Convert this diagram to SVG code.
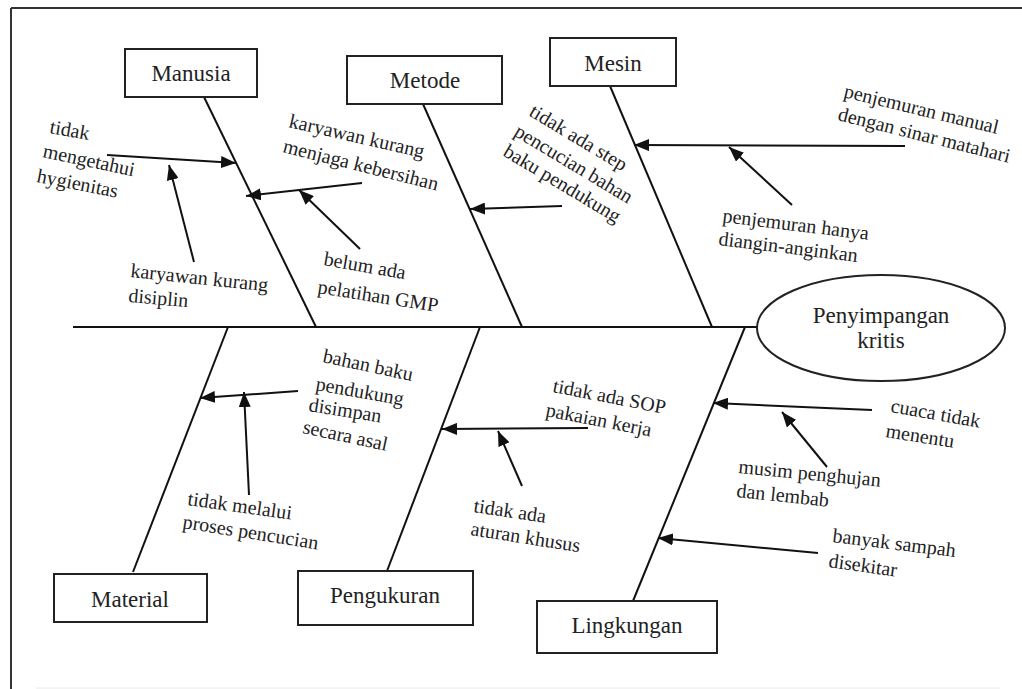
<svg xmlns="http://www.w3.org/2000/svg" width="1022" height="689" viewBox="0 0 1022 689">
<style>
.ln{stroke:#111;stroke-width:2;fill:none}
.ar{stroke:#111;stroke-width:2;fill:none;marker-end:url(#ah)}
.box{fill:#fff;stroke:#222;stroke-width:2}
.bt{font-family:"Liberation Serif","Times New Roman",serif;font-size:23px;fill:#222;text-anchor:middle}
.lb{font-family:"Liberation Serif","Times New Roman",serif;font-size:20px;fill:#222}
</style>
<defs>
<marker id="ah" markerUnits="userSpaceOnUse" markerWidth="16" markerHeight="12" refX="15" refY="6" orient="auto">
<path d="M0,0 L15,6 L0,12 z" fill="#111"/>
</marker>
</defs>
<rect width="1022" height="689" fill="#fff"/>
<g id="frame">
<line x1="11" y1="8" x2="1022" y2="8" stroke="#333" stroke-width="2"/>
<line x1="11" y1="8" x2="11" y2="689" stroke="#333" stroke-width="2"/>
<line x1="36" y1="688" x2="1000" y2="688" stroke="#e8e8e8" stroke-width="1"/>
</g>
<g id="connectors">
<line class="ln" x1="73" y1="327" x2="758" y2="327"/>
<line class="ln" x1="204" y1="97" x2="316" y2="327"/>
<line class="ln" x1="423" y1="104" x2="522" y2="327"/>
<line class="ln" x1="610" y1="86" x2="712" y2="327"/>
<line class="ln" x1="228" y1="327" x2="133" y2="572"/>
<line class="ln" x1="480" y1="327" x2="387" y2="571"/>
<line class="ln" x1="745" y1="327" x2="633" y2="601"/>
<line class="ar" x1="107" y1="155" x2="236" y2="163"/>
<line class="ar" x1="194" y1="262" x2="169" y2="165"/>
<line class="ar" x1="362" y1="183" x2="246" y2="196"/>
<line class="ar" x1="360" y1="249" x2="299" y2="190"/>
<line class="ar" x1="562" y1="206" x2="470" y2="209"/>
<line class="ar" x1="905" y1="146" x2="634" y2="145"/>
<line class="ar" x1="792" y1="205" x2="729" y2="147"/>
<line class="ar" x1="298" y1="391" x2="200" y2="398"/>
<line class="ar" x1="249" y1="495" x2="244" y2="392"/>
<line class="ar" x1="588" y1="428" x2="442" y2="429"/>
<line class="ar" x1="522" y1="486" x2="498" y2="431"/>
<line class="ar" x1="872" y1="410" x2="713" y2="403"/>
<line class="ar" x1="827" y1="467" x2="782" y2="412"/>
<line class="ar" x1="818" y1="553" x2="658" y2="538"/>
</g>
<g id="manusia">
<rect class="box" x="125" y="49" width="132" height="48"/>
<text class="bt" x="191" y="81">Manusia</text>
</g>
<g id="metode">
<rect class="box" x="347" y="56" width="155" height="48"/>
<text class="bt" x="425" y="88">Metode</text>
</g>
<g id="mesin">
<rect class="box" x="550" y="38" width="126" height="48"/>
<text class="bt" x="613" y="71">Mesin</text>
</g>
<g id="material">
<rect class="box" x="54" y="574" width="153" height="48"/>
<text class="bt" x="130" y="607">Material</text>
</g>
<g id="pengukuran">
<rect class="box" x="298" y="571" width="175" height="54"/>
<text class="bt" x="385" y="603">Pengukuran</text>
</g>
<g id="lingkungan">
<rect class="box" x="537" y="601" width="180" height="52"/>
<text class="bt" x="627" y="633">Lingkungan</text>
</g>
<g id="penyimpangan">
<ellipse cx="881" cy="328" rx="124" ry="53" fill="#fff" stroke="#222" stroke-width="2"/>
<text class="bt" x="881" y="323">Penyimpangan</text>
<text class="bt" x="881" y="348">kritis</text>
</g>
<g id="labels">
<text class="lb" x="49" y="133" transform="rotate(10 49 133)">tidak</text>
<text class="lb" x="42" y="157" transform="rotate(12 42 157)">mengetahui</text>
<text class="lb" x="36" y="182" transform="rotate(11 36 182)">hygienitas</text>
<text class="lb" x="288" y="127" transform="rotate(13 288 127)">karyawan kurang</text>
<text class="lb" x="282" y="152" transform="rotate(14 282 152)">menjaga kebersihan</text>
<text class="lb" x="130" y="277" transform="rotate(6 130 277)">karyawan kurang</text>
<text class="lb" x="128" y="302" transform="rotate(5 128 302)">disiplin</text>
<text class="lb" x="323" y="265" transform="rotate(10 323 265)">belum ada</text>
<text class="lb" x="317" y="293" transform="rotate(9 317 293)">pelatihan GMP</text>
<text class="lb" x="528" y="115" transform="rotate(31 528 115)">tidak ada step</text>
<text class="lb" x="513" y="135" transform="rotate(31 513 135)">pencucian bahan</text>
<text class="lb" x="502" y="155" transform="rotate(31 502 155)">baku pendukung</text>
<text class="lb" x="843" y="97" transform="rotate(13.5 843 97)">penjemuran manual</text>
<text class="lb" x="837" y="120" transform="rotate(14 837 120)">dengan sinar matahari</text>
<text class="lb" x="722" y="222" transform="rotate(7 722 222)">penjemuran hanya</text>
<text class="lb" x="718" y="245" transform="rotate(7 718 245)">diangin-anginkan</text>
<text class="lb" x="322" y="362" transform="rotate(12 322 362)">bahan baku</text>
<text class="lb" x="315" y="390" transform="rotate(10 315 390)">pendukung</text>
<text class="lb" x="308" y="411" transform="rotate(9 308 411)">disimpan</text>
<text class="lb" x="302" y="433" transform="rotate(12 302 433)">secara asal</text>
<text class="lb" x="187" y="505" transform="rotate(8 187 505)">tidak melalui</text>
<text class="lb" x="182" y="528" transform="rotate(9 182 528)">proses pencucian</text>
<text class="lb" x="552" y="392" transform="rotate(11 552 392)">tidak ada SOP</text>
<text class="lb" x="545" y="416" transform="rotate(11 545 416)">pakaian kerja</text>
<text class="lb" x="473" y="512" transform="rotate(8.5 473 512)">tidak ada</text>
<text class="lb" x="470" y="535" transform="rotate(9 470 535)">aturan khusus</text>
<text class="lb" x="890" y="412" transform="rotate(10 890 412)">cuaca tidak</text>
<text class="lb" x="885" y="437" transform="rotate(9 885 437)">menentu</text>
<text class="lb" x="738" y="473" transform="rotate(5.5 738 473)">musim penghujan</text>
<text class="lb" x="736" y="497" transform="rotate(6 736 497)">dan lembab</text>
<text class="lb" x="832" y="542" transform="rotate(7 832 542)">banyak sampah</text>
<text class="lb" x="828" y="567" transform="rotate(8 828 567)">disekitar</text>
</g>
</svg>
